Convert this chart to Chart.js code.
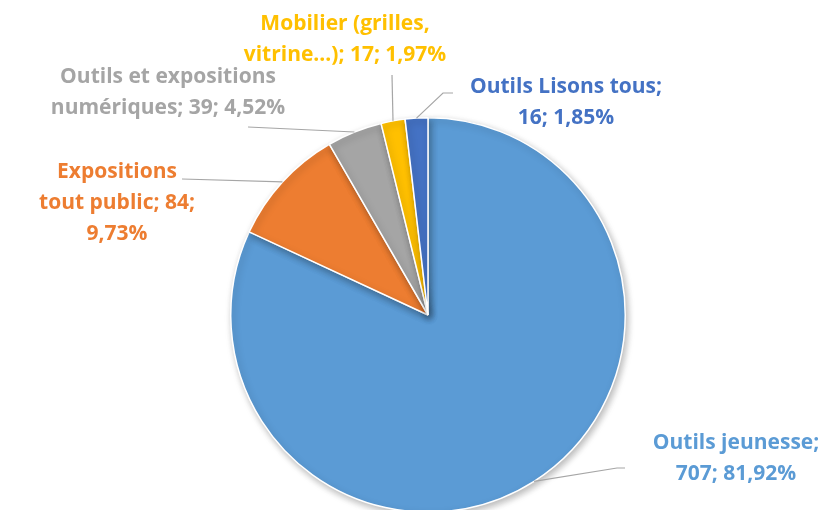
<!DOCTYPE html>
<html><head><meta charset="utf-8">
<script src="https://cdn.jsdelivr.net/npm/chart.js@4/dist/chart.umd.min.js"></script>
<style>html,body{margin:0;padding:0;background:#fff;overflow:hidden;width:827px;height:510px}canvas{display:block}</style>
</head><body>
<canvas id="c" width="827" height="540"></canvas>
<script>
const categories = ["Outils jeunesse", "Expositions tout public", "Outils et expositions numériques", "Mobilier (grilles, vitrine...)", "Outils Lisons tous"];
const values = [707, 84, 39, 17, 16];
const colors = ["#5B9BD5", "#ED7D31", "#A5A5A5", "#FFC000", "#4472C4"];

// label layout: center x, first baseline y, word-count line breaks, leader elbow point(s)
const labelLayout = [
  {cx: 736, y: 449, breaks: [2], line: [[625, 468], [617, 468]]},
  {cx: 117, y: 178, breaks: [1, 4], line: [[182, 179]]},
  {cx: 168, y: 83, breaks: [3], line: [[248, 127]]},
  {cx: 345, y: 30, breaks: [2], line: [[392, 75]]},
  {cx: 566, y: 93, breaks: [3], line: [[453, 93], [443, 93]]}
];

const total = values.reduce((a, b) => a + b, 0);
const pct = v => (v / total * 100).toFixed(2).replace('.', ',') + '%';

const labelPlugin = {
  id: 'labels',
  afterDatasetsDraw(chart) {
    const ctx = chart.ctx;
    const meta = chart.getDatasetMeta(0);
    ctx.save();
    ctx.font = 'bold 21px "Open Sans"';
    ctx.textAlign = 'center';
    ctx.textBaseline = 'alphabetic';
    meta.data.forEach((arc, i) => {
      const L = labelLayout[i];
      const mid = (arc.startAngle + arc.endAngle) / 2;
      const px = arc.x + Math.cos(mid) * arc.outerRadius;
      const py = arc.y + Math.sin(mid) * arc.outerRadius;
      ctx.strokeStyle = '#A6A6A6';
      ctx.lineWidth = 1.2;
      ctx.beginPath();
      ctx.moveTo(L.line[0][0], L.line[0][1]);
      for (let k = 1; k < L.line.length; k++) ctx.lineTo(L.line[k][0], L.line[k][1]);
      ctx.lineTo(px, py);
      ctx.stroke();
      const text = categories[i] + '; ' + values[i] + '; ' + pct(values[i]);
      const words = text.split(' ');
      const cuts = [0, ...L.breaks, words.length];
      const lines = [];
      for (let k = 0; k < cuts.length - 1; k++) lines.push(words.slice(cuts[k], cuts[k + 1]).join(' '));
      ctx.fillStyle = colors[i];
      lines.forEach((ln, k) => ctx.fillText(ln, L.cx, L.y + k * 31));
    });
    ctx.restore();
  }
};

const shadowPlugin = {
  id: 'shadow',
  beforeDatasetsDraw(chart) {
    const ctx = chart.ctx;
    ctx.save();
    ctx.shadowColor = 'rgba(0,0,0,0.28)';
    ctx.shadowBlur = 7;
    ctx.shadowOffsetX = 2;
    ctx.shadowOffsetY = 3;
  },
  afterDatasetsDraw(chart) { chart.ctx.restore(); }
};

new Chart(document.getElementById('c'), {
  type: 'pie',
  data: {
    labels: categories,
    datasets: [{data: values, backgroundColor: colors, borderColor: '#ffffff', borderWidth: 1.5}]
  },
  options: {
    responsive: false,
    animation: false,
    layout: {padding: {top: 117, bottom: 27, left: 230, right: 201}},
    plugins: {legend: {display: false}, tooltip: {enabled: false}}
  },
  plugins: [shadowPlugin, labelPlugin]
});
</script>
</body></html>
